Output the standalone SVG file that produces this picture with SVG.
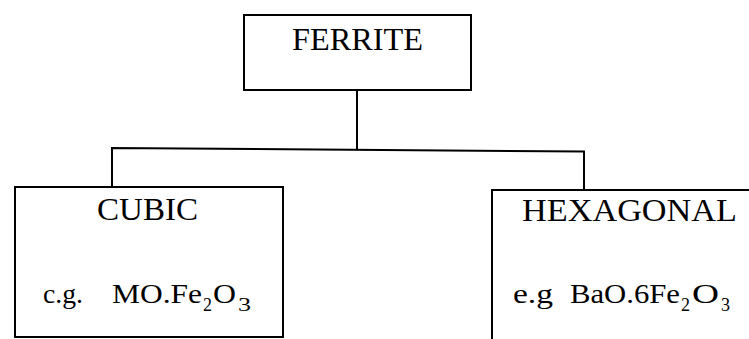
<svg xmlns="http://www.w3.org/2000/svg" width="749" height="339" viewBox="0 0 749 339">
<style>
.box{fill:#fff;stroke:#000;stroke-width:2}
.t{font-family:"Liberation Serif","Times New Roman",serif;fill:#000}
.h{font-size:31px}
.f{font-size:28px}
.s{font-size:18px}
.c{fill:none;stroke:#000;stroke-width:2}
</style>
<rect width="749" height="339" fill="#fff"/>
<g id="connectors">
<path class="c" d="M357,90 V149.5"/>
<path class="c" d="M112,187 V148 L584,151.5 V190"/>
</g>
<g id="ferrite">
<rect class="box" x="244" y="15" width="227" height="75"/>
<text class="t h" x="292" y="50" textLength="131" lengthAdjust="spacingAndGlyphs">FERRITE</text>
</g>
<g id="cubic">
<rect class="box" x="15" y="187" width="268" height="150"/>
<text class="t h" x="97" y="220" textLength="101" lengthAdjust="spacingAndGlyphs">CUBIC</text>
<text class="t f" x="43" y="303" textLength="40" lengthAdjust="spacingAndGlyphs">c.g.</text>
<text class="t f" x="112" y="303" textLength="90" lengthAdjust="spacingAndGlyphs">MO.Fe</text>
<text class="t s" x="203" y="311">2</text>
<text class="t f" x="213" y="303" textLength="23" lengthAdjust="spacingAndGlyphs">O</text>
<text class="t s" x="238" y="311" textLength="13" lengthAdjust="spacingAndGlyphs">3</text>
</g>
<g id="hexagonal">
<rect class="box" x="492" y="190" width="270" height="160"/>
<text class="t h" x="522" y="221" textLength="215" lengthAdjust="spacingAndGlyphs">HEXAGONAL</text>
<text class="t f" x="513" y="303" textLength="40" lengthAdjust="spacingAndGlyphs">e.g</text>
<text class="t f" x="570" y="303" textLength="110" lengthAdjust="spacingAndGlyphs">BaO.6Fe</text>
<text class="t s" x="681" y="311">2</text>
<text class="t f" x="692" y="303" textLength="27" lengthAdjust="spacingAndGlyphs">O</text>
<text class="t s" x="721" y="311">3</text>
</g>
</svg>
